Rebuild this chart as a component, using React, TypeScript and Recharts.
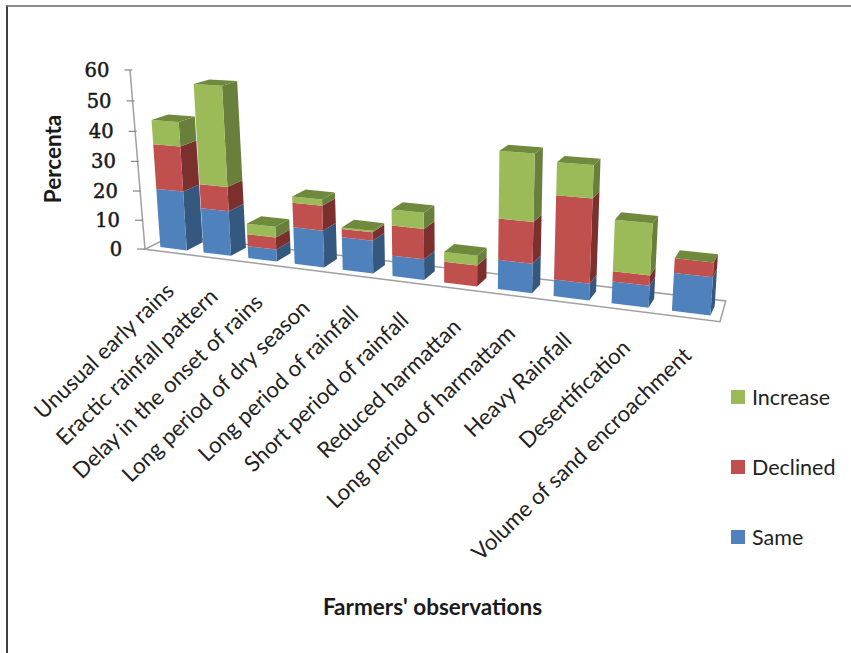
import React from 'react'
import { BarChart, Bar, XAxis, YAxis, Legend, Customized } from 'recharts'

const categories = [
  'Unusual early rains',
  'Eractic rainfall pattern',
  'Delay in the onset of rains',
  'Long period of dry season',
  'Long period of rainfall',
  'Short period of rainfall',
  'Reduced harmattan',
  'Long period of harmattam',
  'Heavy Rainfall',
  'Desertification',
  'Volume of sand encroachment',
]
const same = [20, 15, 4, 12, 10.5, 6.5, 0, 9, 5, 6.5, 11]
const declined = [15, 8, 4, 8, 2.7, 9.5, 6.5, 12.5, 25, 3, 4.2]
const increase = [8, 32.5, 3.5, 2, 0.5, 5, 3, 20, 9.5, 15, 0]
const yTicks = [0, 10, 20, 30, 40, 50, 60]

const data = categories.map((name, i) => ({
  name,
  same: same[i],
  declined: declined[i],
  increase: increase[i],
}))

const WIDTH = 851
const HEIGHT = 653

// flat plot rectangle the scales work in, before the 3D projection
const PLOT = { left: 150, top: 70, width: 570, height: 250 }

// projection: plot corners on the front plane of the columns, with weights for perspective
const ORIGIN = { x: 152.1, y: 246.05 }
const END_X = { x: 722.3, y: 317, w: 0.8145 }
const END_Y = { x: 139.3, y: 67, w: 0.9587 }

const project = (u: number, v: number) => {
  const a = 1 - u - v
  const d = a + u * END_X.w + v * END_Y.w
  return {
    x: (a * ORIGIN.x + u * END_X.w * END_X.x + v * END_Y.w * END_Y.x) / d,
    y: (a * ORIGIN.y + u * END_X.w * END_X.y + v * END_Y.w * END_Y.y) / d,
  }
}

const flatToScreen = (x: number, y: number) =>
  project((x - PLOT.left) / PLOT.width, (PLOT.top + PLOT.height - y) / PLOT.height)

// how far a column's back edge sits from its front edge, shrinking to the right
const toBack = (p: { x: number; y: number }) => ({
  x: p.x + 20 - 0.0222 * p.x,
  y: p.y - 3 - 0.02 * p.y,
})

type Pt = { x: number; y: number }
const pts = (list: Pt[]) => list.map(p => `${p.x.toFixed(2)},${p.y.toFixed(2)}`).join(' ')

const Column3D = (sideFill: string, topFill?: string) => (props: any) => {
  const { x, y, width, height, fill } = props
  const bl = flatToScreen(x, y + height)
  const br = flatToScreen(x + width, y + height)
  const tl = flatToScreen(x, y)
  const tr = flatToScreen(x + width, y)
  return (
    <g>
      <polygon points={pts([br, toBack(br), toBack(tr), tr])} fill={sideFill} />
      <polygon points={pts([bl, br, tr, tl])} fill={fill} />
      {topFill && <polygon points={pts([tl, tr, toBack(tr), toBack(tl)])} fill={topFill} />}
    </g>
  )
}

const ValueTick = (props: any) => {
  const { y, payload } = props
  const p = flatToScreen(PLOT.left, y)
  const ax = p.x - 7
  const ay = p.y + 3
  return (
    <g>
      <line x1={ax - 8} y1={ay} x2={ax} y2={ay} stroke="#868686" strokeWidth={1.2} />
      <text
        x={ax - 23}
        y={ay + 7}
        textAnchor="end"
        fontFamily="'DejaVu Serif', serif"
        fontSize={19.5}
        fill="#1a1a1a"
        stroke="#1a1a1a"
        strokeWidth={0.5}
      >
        {payload.value}
      </text>
    </g>
  )
}

const CategoryTick = (props: any) => {
  const { x, payload } = props
  const p = flatToScreen(x, PLOT.top + PLOT.height)
  const tx = p.x + 2
  const ty = p.y + 44
  return (
    <text
      x={tx}
      y={ty}
      transform={`rotate(-44 ${tx} ${ty})`}
      textAnchor="end"
      fontFamily="Lato, sans-serif"
      fontSize={22.2}
      fill="#222"
    >
      {payload.value}
    </text>
  )
}

// floor of the chart and the leaning value axis
const Floor = () => (
  <g>
    <polygon
      points="145,249.3 720,321.7 725.7,301 172,235.5"
      fill="#fff"
      stroke="#a0a0a0"
      strokeWidth={1.5}
    />
    <line x1={145} y1={249.3} x2={130} y2={70} stroke="#a0a0a0" strokeWidth={1.5} />
  </g>
)

const Titles = () => (
  <g fontFamily="Lato, sans-serif" fontWeight={700} fill="#1a1a1a">
    <text x={0} y={0} transform="translate(61 159) rotate(-90)" textAnchor="middle" fontSize={22.5}>
      Percenta
    </text>
    <text x={432.5} y={615} textAnchor="middle" fontSize={22.5}>
      Farmers' observations
    </text>
  </g>
)

const LegendList = ({ payload }: any) => (
  <div>
    {[...payload].reverse().map((entry: any) => (
      <div
        key={entry.value}
        style={{
          display: 'flex',
          alignItems: 'center',
          height: 70,
          fontFamily: 'Lato, sans-serif',
          fontSize: 21.5,
          color: '#222',
        }}
      >
        <span style={{ width: 14, height: 14, background: entry.color, marginRight: 7 }} />
        {entry.value}
      </div>
    ))}
  </div>
)

export default function App() {
  return (
    <div style={{ position: 'absolute', left: 0, top: 0, width: WIDTH, height: HEIGHT, overflow: 'hidden', background: '#fff' }}>
      <div
        style={{
          position: 'absolute',
          left: 6,
          top: 5,
          right: 0,
          bottom: 0,
          borderTop: '2px solid #8c8c8c',
          borderLeft: '2px solid #404040',
        }}
      />
      <BarChart
        width={WIDTH}
        height={HEIGHT}
        data={data}
        barCategoryGap="19.5%"
        margin={{
          left: PLOT.left - 1,
          top: PLOT.top,
          right: WIDTH - PLOT.left - PLOT.width,
          bottom: HEIGHT - PLOT.top - PLOT.height - 1,
        }}
      >
        <Customized component={Floor} />
        <XAxis dataKey="name" height={1} interval={0} axisLine={false} tickLine={false} tick={CategoryTick} />
        <YAxis width={1} domain={[0, 60]} ticks={yTicks} interval={0} axisLine={false} tickLine={false} tick={ValueTick} />
        <Bar dataKey="same" name="Same" stackId="a" fill="#4f81bd" isAnimationActive={false} shape={Column3D('#35587f')} />
        <Bar dataKey="declined" name="Declined" stackId="a" fill="#c0504d" isAnimationActive={false} shape={Column3D('#7b302e')} />
        <Bar dataKey="increase" name="Increase" stackId="a" fill="#9bbb59" isAnimationActive={false} shape={Column3D('#69803c', '#6f8a3c')} />
        <Customized component={Titles} />
        <Legend
          layout="vertical"
          align="center"
          verticalAlign="middle"
          itemSorter={null}
          content={LegendList}
          wrapperStyle={{ position: 'absolute', left: 731, top: 362, width: 118, height: 210, bottom: 'auto' }}
        />
      </BarChart>
    </div>
  )
}
